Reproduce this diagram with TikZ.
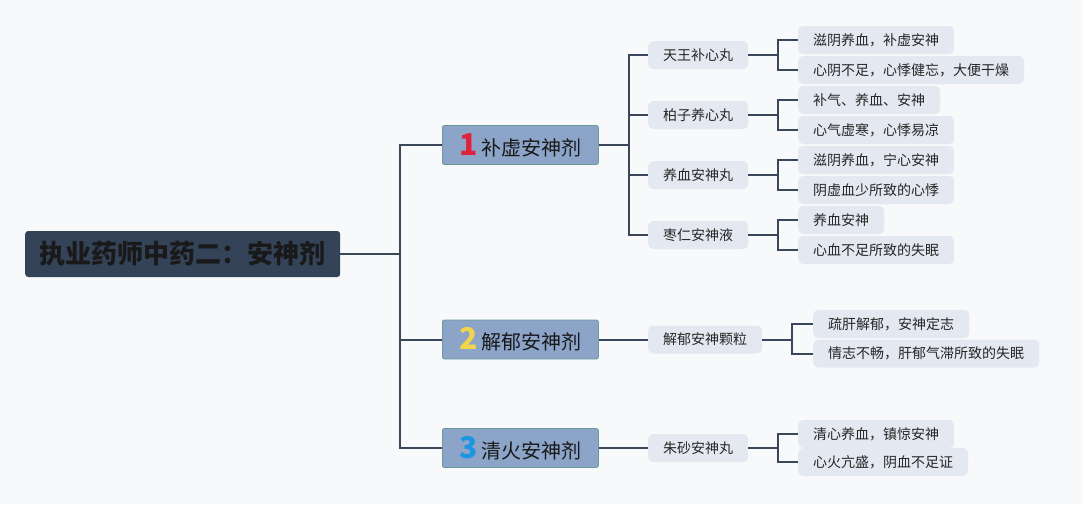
\documentclass[tikz,border=0pt]{standalone}
\usepackage{fontspec}
\setmainfont{Noto Sans CJK SC}
\usetikzlibrary{positioning}

\definecolor{bgcol}{HTML}{F8F9FB}
\definecolor{rootcol}{HTML}{354359}
\definecolor{typecol}{HTML}{8CA4C8}
\definecolor{typeedge}{HTML}{6B9A9B}
\definecolor{boxcol}{HTML}{E4E8F0}
\definecolor{linecol}{HTML}{3A475A}
\definecolor{numred}{HTML}{E0213A}
\definecolor{numyellow}{HTML}{F2D54A}
\definecolor{numblue}{HTML}{1D95E0}

\newcommand{\typenum}[2]{{\fontsize{30}{30}\selectfont\bfseries\textcolor{#1}{#2}}\hspace{4pt}}

\begin{document}
\begin{tikzpicture}[x = 1pt, y = -1pt,
	link/.style = {draw = linecol, line width = 2pt},
	rootbox/.style = {anchor = west, fill = rootcol, rounded corners = 3pt, minimum width = 315pt, minimum height = 46pt, inner sep = 0pt, text = black!90, font = \fontsize{26}{28}\selectfont\bfseries},
	typebox/.style = {anchor = west, fill = typecol, draw = typeedge, line width = 0.8pt, rounded corners = 2pt, minimum width = 156pt, minimum height = 39pt, inner sep = 0pt, text = black!90, font = \fontsize{20}{22}\selectfont},
	drugbox/.style = {anchor = west, fill = boxcol, rounded corners = 5pt, minimum height = 28pt, inner xsep = 15pt, inner ysep = 0pt, text = black!85, font = \fontsize{14}{16}\selectfont},
	notebox/.style = {drugbox}]

	% Background

	\fill [bgcol] (0, 0) rectangle (1083, 504);
	\useasboundingbox (0, 0) rectangle (1083, 504);

	% Root

	\node [rootbox] (root) at (25, 254) {执业药师中药二：安神剂};

	% Types

	\node [typebox] (c1) at (442, 145) {\typenum{numred}{1}补虚安神剂};
	\node [typebox] (c2) at (442, 339.5) {\typenum{numyellow}{2}解郁安神剂};
	\node [typebox] (c3) at (442, 448) {\typenum{numblue}{3}清火安神剂};

	\foreach \c in {c1, c2, c3}
		\draw [link] (root.east) -- ++(60, 0) |- (\c.west);

	% Drugs

	\foreach \n/\y/\t in {d1/55/天王补心丸, d2/115/柏子养心丸, d3/175/养血安神丸, d4/235/枣仁安神液, d5/339.5/解郁安神颗粒, d6/448/朱砂安神丸}
		\node [drugbox] (\n) at (648, \y) {\t};

	\foreach \n in {d1, d2, d3, d4}
		\draw [link] (c1.east) -- ++(30, 0) |- (\n.west);
	\draw [link] (c2.east) -- (d5.west);
	\draw [link] (c3.east) -- (d6.west);

	% Notes

	\foreach \n/\y/\t in {n1/40/滋阴养血，补虚安神, n2/70/心阴不足，心悸健忘，大便干燥,
		n3/100/补气、养血、安神, n4/130/心气虚寒，心悸易凉,
		n5/160/滋阴养血，宁心安神, n6/190/阴虚血少所致的心悸,
		n7/220/养血安神, n8/250/心血不足所致的失眠,
		n11/434/清心养血，镇惊安神, n12/462/心火亢盛，阴血不足证}
		\node [notebox] (\n) at (798, \y) {\t};

	\node [notebox] (n9) at (813, 324) {疏肝解郁，安神定志};
	\node [notebox] (n10) at (813, 353.5) {情志不畅，肝郁气滞所致的失眠};

	\foreach \d/\a/\b in {d1/n1/n2, d2/n3/n4, d3/n5/n6, d4/n7/n8, d5/n9/n10, d6/n11/n12}
	{
		\draw [link] (\d.east) -- ++(29.5, 0) |- (\a.west);
		\draw [link] (\d.east) -- ++(29.5, 0) |- (\b.west);
	}

\end{tikzpicture}
\end{document}
